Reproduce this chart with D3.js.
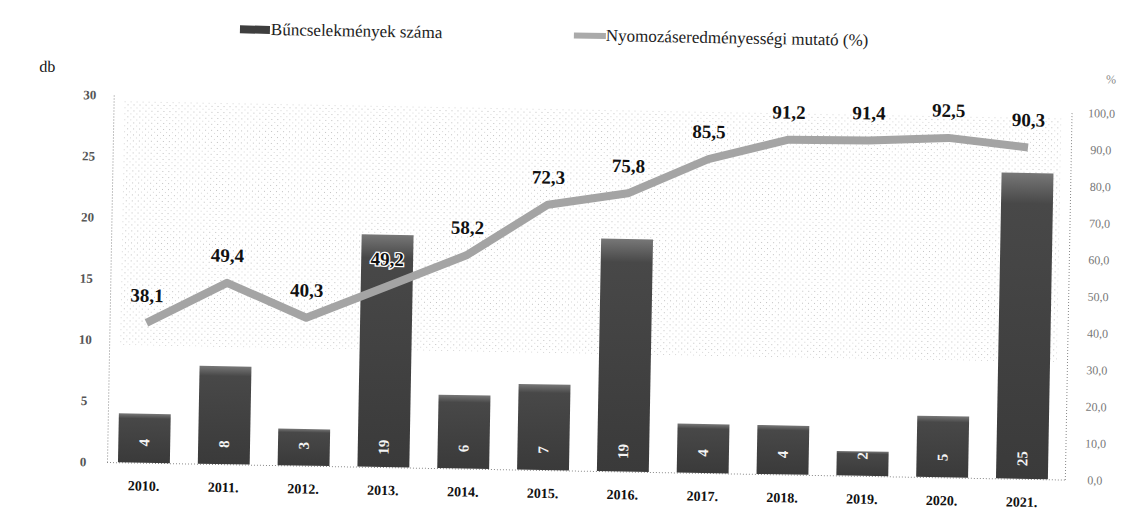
<!DOCTYPE html>
<html>
<head>
<meta charset="utf-8">
<script src="https://cdn.jsdelivr.net/npm/d3@7"></script>
<style>
  body { margin: 0; background: #fff; }
  svg text { font-family: 'Liberation Serif', 'DejaVu Serif', serif; }
</style>
</head>
<body>
<svg id="chart" width="1125" height="520"></svg>
<script>
const YEARS = ["2010.", "2011.", "2012.", "2013.", "2014.", "2015.", "2016.", "2017.", "2018.", "2019.", "2020.", "2021."];
const CRIMES = [4, 8, 3, 19, 6, 7, 19, 4, 4, 2, 5, 25];
const RATE = [38.1, 49.4, 40.3, 49.2, 58.2, 72.3, 75.8, 85.5, 91.2, 91.4, 92.5, 90.3];
const LEFT_TICKS = [0, 5, 10, 15, 20, 25, 30];
const RIGHT_TICKS = [0, 10, 20, 30, 40, 50, 60, 70, 80, 90, 100];
const LEGEND_LABELS = ["Bűncselekmények száma", "Nyomozáseredményességi mutató (%)"];

const hu = d3.formatLocale({ decimal: ",", thousands: " ", grouping: [3], currency: ["", ""] });
const fmt1 = hu.format(".1f");

const plot = { left: 107, right: 1065, top: 95, bottom: 462 };

const svg = d3.select("#chart");
const defs = svg.append("defs");

// scanned look: bars get a lighter top band, background gets faint stipple
const grad = defs.append("linearGradient").attr("id", "barGrad")
    .attr("x1", 0).attr("y1", 0).attr("x2", 0).attr("y2", 1);
grad.append("stop").attr("offset", "0%").attr("stop-color", "#777");
grad.append("stop").attr("offset", "10%").attr("stop-color", "#484848");
grad.append("stop").attr("offset", "100%").attr("stop-color", "#3a3a3a");

const dots = defs.append("pattern").attr("id", "stipple")
    .attr("width", 6).attr("height", 6).attr("patternUnits", "userSpaceOnUse");
dots.append("rect").attr("x", 1).attr("y", 2).attr("width", 1).attr("height", 1).attr("fill", "#999");
dots.append("rect").attr("x", 4).attr("y", 5).attr("width", 1).attr("height", 1).attr("fill", "#bbb");

// the whole page is slightly tilted, like the scan
const g = svg.append("g").attr("transform", `rotate(1.05, ${plot.left}, ${plot.bottom})`);

const x = d3.scaleBand().domain(YEARS).range([104, 1062]).paddingInner(0.35).paddingOuter(0.175);
const yL = d3.scaleLinear().domain([0, 30]).range([plot.bottom, plot.top]);
const yR = d3.scaleLinear().domain([0, 100]).range([plot.bottom, plot.top]);

g.append("rect")
    .attr("x", plot.left + 10).attr("y", plot.top + 5)
    .attr("width", plot.right - plot.left - 20).attr("height", yL(10) - plot.top)
    .attr("fill", "url(#stipple)").attr("opacity", 0.6);

// axes (dotted, no ticks)
const leftAxis = g.append("g").attr("transform", `translate(${plot.left},0)`)
    .call(d3.axisLeft(yL).tickValues(LEFT_TICKS).tickSize(0).tickPadding(24));
const rightAxis = g.append("g").attr("transform", `translate(${plot.right},0)`)
    .call(d3.axisRight(yR).tickValues(RIGHT_TICKS).tickSize(0).tickPadding(14).tickFormat(fmt1));
const bottomAxis = g.append("g").attr("transform", `translate(0,${plot.bottom})`)
    .call(d3.axisBottom(x).tickSize(0).tickPadding(18));

[leftAxis, rightAxis].forEach(a => a.select(".domain")
    .attr("stroke", "#888").attr("stroke-dasharray", "1,2"));
bottomAxis.select(".domain").attr("d", `M${plot.left},0.5H${plot.right}`)
    .attr("stroke", "#888").attr("stroke-dasharray", "1,2");

leftAxis.selectAll("text")
    .attr("font-size", 13).attr("font-weight", "bold")
    .attr("fill", "#555").attr("text-anchor", "middle");
rightAxis.selectAll("text")
    .attr("font-size", 12)
    .attr("fill", "#777").attr("text-anchor", "middle").attr("dx", 16);
bottomAxis.selectAll("text")
    .attr("font-size", 14).attr("font-weight", "bold")
    .attr("fill", "#111");

// unit captions
g.append("text").attr("x", 40).attr("y", 73).attr("font-size", 16)
    .attr("text-anchor", "middle").attr("fill", "#111").text("db");
g.append("text").attr("x", 1104).attr("y", plot.top - 30).attr("font-size", 12)
    .attr("text-anchor", "middle").attr("fill", "#888").text("%");

// bars
g.append("g").selectAll("rect")
    .data(CRIMES)
    .join("rect")
    .attr("x", (d, i) => x(YEARS[i]))
    .attr("y", d => yL(d))
    .attr("width", x.bandwidth())
    .attr("height", d => yL(0) - yL(d))
    .attr("fill", "url(#barGrad)");

// value labels inside the bars, turned on their side
g.append("g").selectAll("text")
    .data(CRIMES)
    .join("text")
    .attr("transform", (d, i) => `translate(${x(YEARS[i]) + x.bandwidth() / 2 + 5},${yL(0) - 20}) rotate(-90)`)
    .attr("text-anchor", "middle")
    .attr("font-size", 15).attr("font-weight", "bold")
    .attr("fill", "#f4f4f4")
    .text(d => d);

// rate line
const cx = i => x(YEARS[i]) + x.bandwidth() / 2;
g.append("path")
    .datum(RATE)
    .attr("fill", "none")
    .attr("stroke", "#a4a4a4")
    .attr("stroke-width", 8)
    .attr("stroke-linejoin", "round")
    .attr("d", d3.line().x((d, i) => cx(i)).y(d => yR(d)));

g.append("g").selectAll("text")
    .data(RATE)
    .join("text")
    .attr("x", (d, i) => cx(i))
    .attr("y", d => yR(d) - 21)
    .attr("text-anchor", "middle")
    .attr("font-size", 19).attr("font-weight", "bold")
    .attr("fill", "#111")
    .attr("stroke", "#fff").attr("stroke-width", 2.5).attr("paint-order", "stroke")
    .text(d => fmt1(d));

// legend
const legend = g.append("g").attr("transform", "translate(0,27)");
legend.append("rect").attr("x", 232).attr("y", -4).attr("width", 30).attr("height", 8).attr("fill", "#3e3e3e");
legend.append("text").attr("x", 263).attr("y", 5).attr("font-size", 17).attr("fill", "#222").text(LEGEND_LABELS[0]);
legend.append("rect").attr("x", 566).attr("y", -3).attr("width", 32).attr("height", 6).attr("fill", "#aaa");
legend.append("text").attr("x", 598).attr("y", 5).attr("font-size", 17).attr("fill", "#222").text(LEGEND_LABELS[1]);
</script>
</body>
</html>
